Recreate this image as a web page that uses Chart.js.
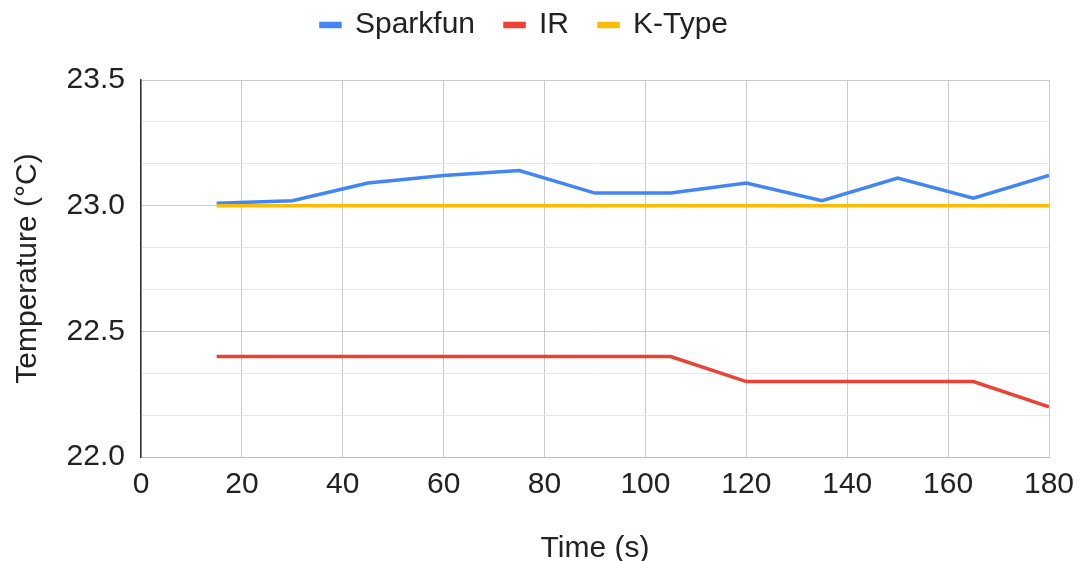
<!DOCTYPE html>
<html>
<head>
<meta charset="utf-8">
<script src="https://cdn.jsdelivr.net/npm/chart.js@4.4.1/dist/chart.umd.min.js"></script>
<style>
  body { margin: 0; background: #fff; }
  #wrap { width: 1080px; height: 561px; }
</style>
</head>
<body>
<div id="wrap"><canvas id="tempChart"></canvas></div>
<script>
// readings every 15 s
var times = [15, 30, 45, 60, 75, 90, 105, 120, 135, 150, 165, 180];
var sparkfun = [23.01, 23.02, 23.09, 23.12, 23.14, 23.05, 23.05, 23.09, 23.02, 23.11, 23.03, 23.12];
var ir = [22.4, 22.4, 22.4, 22.4, 22.4, 22.4, 22.4, 22.3, 22.3, 22.3, 22.3, 22.2];
var kType = [23.0, 23.0, 23.0, 23.0, 23.0, 23.0, 23.0, 23.0, 23.0, 23.0, 23.0, 23.0];

var xTicks = [0, 20, 40, 60, 80, 100, 120, 140, 160, 180];
var yMajor = [22.0, 22.5, 23.0, 23.5];
var yMinorPerMajor = 3;

function points(values) {
    return times.map((t, i) => ({ x: t, y: values[i] }));
}

function isMajor(v) {
    return yMajor.some(m => Math.abs(m - v) < 1e-6);
}

var fontFamily = '"Liberation Sans", Arial, sans-serif';
var fontSize = 30;

// push the plot down below the legend
var legendSpacer = {
    id: 'legendSpacer',
    beforeInit: function (chart) {
        var origFit = chart.legend.fit;
        chart.legend.fit = function () {
            origFit.bind(chart.legend)();
            this.height += 30;
        };
    }
};

var ctx = document.getElementById('tempChart').getContext('2d');
new Chart(ctx, {
    type: 'line',
    data: {
        datasets: [{
            label: 'Sparkfun',
            data: points(sparkfun),
            borderColor: '#4285F4',
            backgroundColor: '#4285F4',
            order: 2
        }, {
            label: 'IR',
            data: points(ir),
            borderColor: '#EA4335',
            backgroundColor: '#EA4335',
            order: 1
        }, {
            label: 'K-Type',
            data: points(kType),
            borderColor: '#FBBC04',
            backgroundColor: '#FBBC04',
            order: 0
        }]
    },
    options: {
        responsive: true,
        maintainAspectRatio: false,
        animation: false,
        layout: { padding: { top: -20, right: 31, bottom: -6, left: 0 } },
        elements: {
            line: { borderWidth: 3.5, tension: 0 },
            point: { radius: 0 }
        },
        plugins: {
            tooltip: { enabled: false },
            legend: {
                position: 'top',
                labels: {
                    boxWidth: 19,
                    boxHeight: 3,
                    padding: 30,
                    color: '#222',
                    font: { family: fontFamily, size: fontSize },
                    sort: (a, b) => a.datasetIndex - b.datasetIndex
                }
            }
        },
        scales: {
            x: {
                type: 'linear',
                min: 0,
                max: 180,
                afterBuildTicks: function (scale) {
                    scale.ticks = xTicks.map(v => ({ value: v }));
                },
                afterFit: function (scale) {
                    scale.height = 110;
                    // let the last label hang into the right margin
                    scale.paddingRight = 0;
                    scale.paddingLeft = 0;
                },
                ticks: {
                    padding: 10,
                    color: '#222',
                    font: { family: fontFamily, size: fontSize }
                },
                grid: { color: '#cccccc', drawTicks: false },
                border: { color: '#bdbdbd', width: 1 },
                title: {
                    display: true,
                    text: 'Time (s)',
                    color: '#222',
                    font: { family: fontFamily, size: fontSize },
                    padding: { top: 0, bottom: 0 }
                }
            },
            y: {
                min: 22.0,
                max: 23.5,
                afterBuildTicks: function (scale) {
                    var ticks = [];
                    for (var i = 0; i < yMajor.length; i++) {
                        ticks.push({ value: yMajor[i] });
                        if (i < yMajor.length - 1) {
                            var step = (yMajor[i + 1] - yMajor[i]) / yMinorPerMajor;
                            for (var k = 1; k < yMinorPerMajor; k++) {
                                ticks.push({ value: yMajor[i] + step * k });
                            }
                        }
                    }
                    scale.ticks = ticks;
                },
                afterFit: function (scale) {
                    scale.width = 141;
                },
                ticks: {
                    padding: 16,
                    color: '#222',
                    autoSkip: false,
                    font: { family: fontFamily, size: fontSize },
                    callback: function (value) {
                        return isMajor(value) ? value.toFixed(1) : '';
                    }
                },
                grid: {
                    drawTicks: false,
                    color: function (c) {
                        return c.tick && isMajor(c.tick.value) ? '#cccccc' : '#e6e6e6';
                    }
                },
                border: { color: '#333333', width: 1.5 },
                title: {
                    display: true,
                    text: 'Temperature (°C)',
                    color: '#222',
                    font: { family: fontFamily, size: fontSize },
                    padding: { top: 10, bottom: 0 }
                }
            }
        }
    },
    plugins: [legendSpacer]
});
</script>
</body>
</html>
